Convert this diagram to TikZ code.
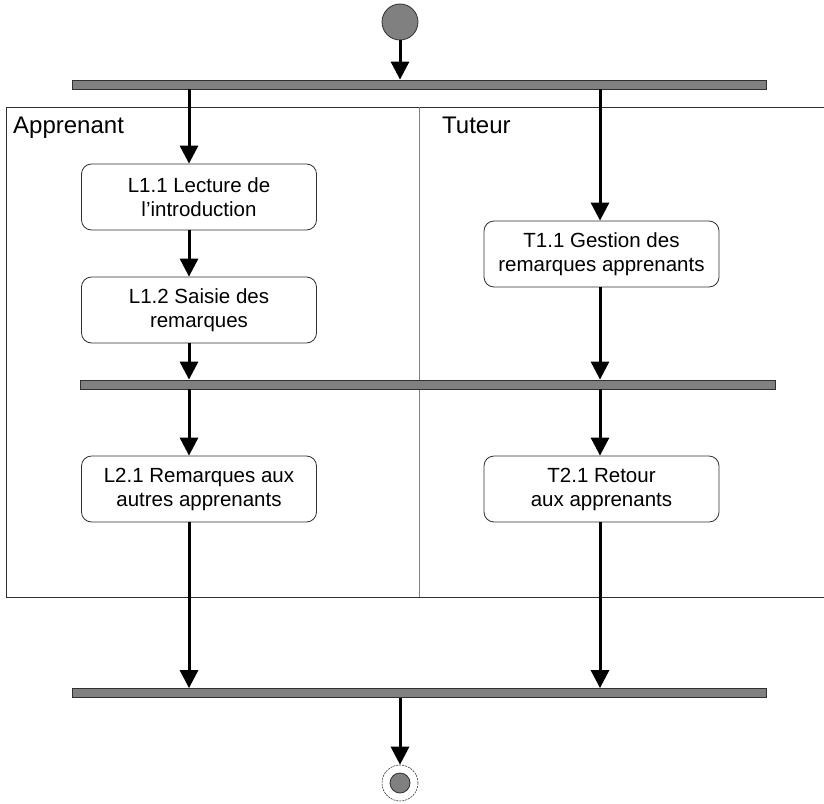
\documentclass[tikz,border=0pt]{standalone}
\usepackage{fontspec}
\setmainfont{Liberation Sans}
\usetikzlibrary{arrows.meta}
\definecolor{barfill}{HTML}{808080}
\definecolor{edge}{HTML}{303030}
\begin{document}
\begin{tikzpicture}[x=1pt,y=-1pt,
  action/.style={draw=edge,line width=0.8pt,rounded corners=10pt,fill=white,
    minimum width=235pt,minimum height=66pt,align=center,inner sep=0pt,
    font=\fontsize{20.5pt}{24pt}\selectfont},
  syncbar/.style={draw=edge,line width=0.8pt,fill=barfill,minimum height=9pt,inner sep=0pt},
  flow/.style={line width=3pt,-{Triangle[length=18pt,width=18pt]}},
  lanelabel/.style={anchor=base west,inner sep=0pt,font=\fontsize{24pt}{28pt}\selectfont}]
\useasboundingbox (0,0) rectangle (824,803);

% swimlane frame
\draw[edge,line width=1pt] (830,107) -- (6,107) -- (6,597) -- (830,597);
\draw[gray,line width=1pt] (419,107) -- (419,597);
\node[lanelabel] (lA) at (13,133) {Apprenant};
\node[lanelabel] (lT) at (442,133) {Tuteur};

% flow columns
\coordinate (colL) at (189,0);
\coordinate (colR) at (600,0);

% start and end
\node[circle,draw=edge,line width=0.8pt,fill=barfill,minimum size=36pt,inner sep=0pt] (start) at (400,22) {};
\node[circle,draw=edge,dashed,dash pattern=on 2pt off 1pt,line width=0.6pt,minimum size=36pt,inner sep=0pt] (end) at (400,783) {};
\node[circle,draw=edge,line width=0.8pt,fill=barfill,minimum size=20pt,inner sep=0pt] (endin) at (400,783) {};

% synchronisation bars
\node[syncbar,minimum width=694pt] (bar1) at (419,84.5) {};
\node[syncbar,minimum width=695pt] (bar2) at (427.5,384.5) {};
\node[syncbar,minimum width=694pt] (bar3) at (419,693) {};

% actions
\node[action] (L11) at (199,197) {L1.1 Lecture de\\l’introduction};
\node[action] (L12) at (199,310) {L1.2 Saisie des\\remarques};
\node[action] (T11) at (601.5,254) {T1.1 Gestion des\\remarques apprenants};
\node[action] (L21) at (199,489) {L2.1 Remarques aux\\autres apprenants};
\node[action] (T21) at (601.5,489) {T2.1 Retour\\aux apprenants};

% flows
\draw[flow] (start.south) -- (start.south |- bar1.north);
\draw[flow] (colL |- bar1.south) -- (colL |- L11.north);
\draw[flow] (colR |- bar1.south) -- (colR |- T11.north);
\draw[flow] (colL |- L11.south) -- (colL |- L12.north);
\draw[flow] (colL |- L12.south) -- (colL |- bar2.north);
\draw[flow] (colR |- T11.south) -- (colR |- bar2.north);
\draw[flow] (colL |- bar2.south) -- (colL |- L21.north);
\draw[flow] (colR |- bar2.south) -- (colR |- T21.north);
\draw[flow] (colL |- L21.south) -- (colL |- bar3.north);
\draw[flow] (colR |- T21.south) -- (colR |- bar3.north);
\draw[flow] (bar3.south -| end.north) -- (end.north);
\end{tikzpicture}
\end{document}
